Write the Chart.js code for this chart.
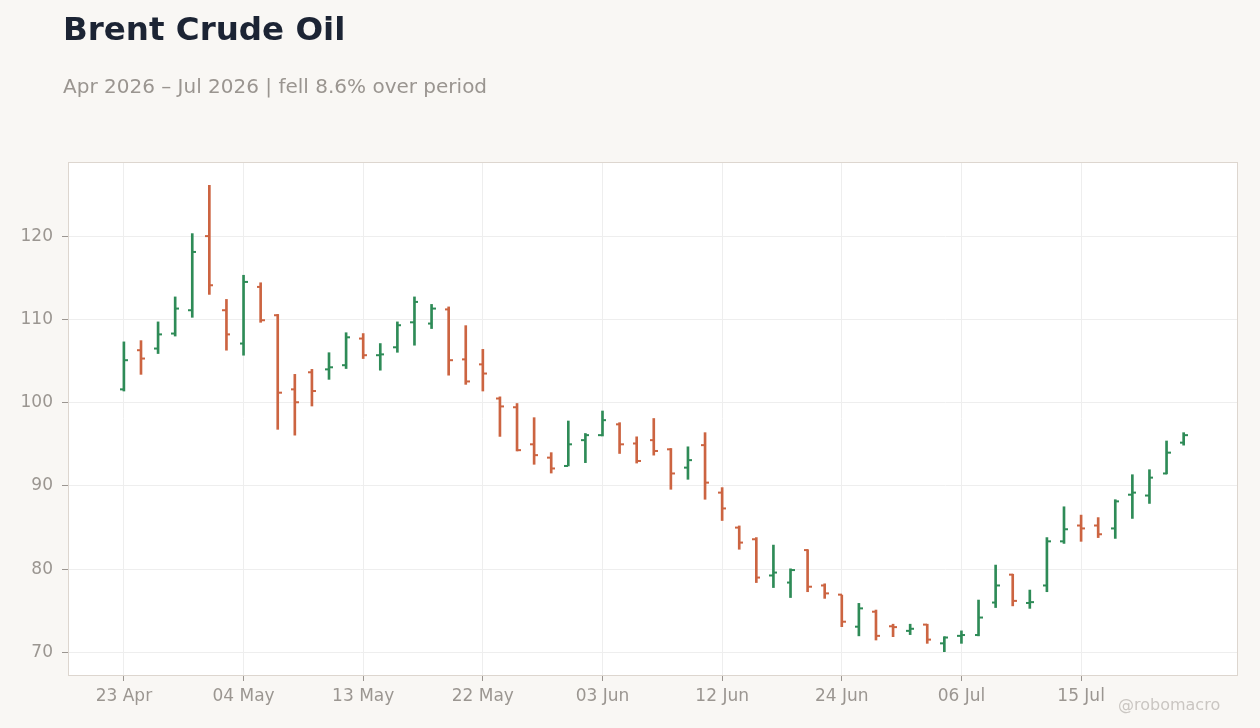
<!DOCTYPE html>
<html>
<head>
<meta charset="utf-8">
<script src="https://cdn.jsdelivr.net/npm/chart.js@4.4.1/dist/chart.umd.min.js"></script>
<style>
  html, body { margin:0; padding:0; background:#f9f7f4; width:1260px; height:728px; overflow:hidden; }
  #wrap { position:relative; width:1260px; height:728px; }
  canvas { position:absolute; left:0; top:0; }
  .txt { position:absolute; font-family:"DejaVu Sans", sans-serif; white-space:nowrap; }
  #title { left:63px; top:13px; font-size:32.5px; line-height:32px; font-weight:bold; color:#1c2434; }
  #subtitle { left:63px; top:76px; font-size:20px; line-height:20px; color:#9a9590; }
  #wm { left:1118px; top:697px; font-size:16px; line-height:16px; color:#cac6c2; }
</style>
</head>
<body>
<div id="wrap">
  <canvas id="c" width="1260" height="728"></canvas>
  <div class="txt" id="title">Brent Crude Oil</div>
  <div class="txt" id="subtitle">Apr 2026 – Jul 2026 | fell 8.6% over period</div>
  <div class="txt" id="wm">@robomacro</div>
</div>
<script>
// Trading days (NYSE calendar) 23 Apr 2026 – 23 Jul 2026
const dates = [
  "2026-04-23","2026-04-24","2026-04-27","2026-04-28","2026-04-29","2026-04-30",
  "2026-05-01","2026-05-04","2026-05-05","2026-05-06","2026-05-07","2026-05-08",
  "2026-05-11","2026-05-12","2026-05-13","2026-05-14","2026-05-15","2026-05-18",
  "2026-05-19","2026-05-20","2026-05-21","2026-05-22","2026-05-26","2026-05-27",
  "2026-05-28","2026-05-29","2026-06-01","2026-06-02","2026-06-03","2026-06-04",
  "2026-06-05","2026-06-08","2026-06-09","2026-06-10","2026-06-11","2026-06-12",
  "2026-06-15","2026-06-16","2026-06-17","2026-06-18","2026-06-22","2026-06-23",
  "2026-06-24","2026-06-25","2026-06-26","2026-06-29","2026-06-30","2026-07-01",
  "2026-07-02","2026-07-06","2026-07-07","2026-07-08","2026-07-09","2026-07-10",
  "2026-07-13","2026-07-14","2026-07-15","2026-07-16","2026-07-17","2026-07-20",
  "2026-07-21","2026-07-22","2026-07-23"
];
const opens = [
  101.6,106.3,106.5,108.3,111.1,120.0,111.1,107.1,113.9,110.5,
  101.6,103.65,104.0,104.5,107.7,105.7,106.65,109.65,109.5,111.2,
  105.2,104.6,100.5,99.45,95.0,93.4,92.4,95.5,96.1,97.4,
  95.1,95.5,94.4,92.2,94.9,89.2,85.0,83.6,79.25,78.4,
  82.3,78.05,76.95,73.1,74.9,73.15,72.6,73.35,71.1,72.0,
  72.1,76.0,79.35,75.95,78.05,83.35,85.25,85.25,84.9,88.95,
  88.85,91.5,95.2
];
const highs = [
  107.3,107.45,109.7,112.7,120.3,126.1,112.4,115.3,114.4,110.6,
  103.4,104.0,106.0,108.4,108.3,107.1,109.7,112.7,111.8,111.5,
  109.25,106.4,100.7,99.9,98.2,94.0,97.8,96.3,99.0,97.6,
  95.9,98.1,94.5,94.7,96.4,89.8,85.2,83.8,82.9,80.05,
  82.35,78.25,76.9,75.9,75.1,73.4,73.4,73.4,71.9,72.6,
  76.3,80.5,79.4,77.5,83.8,87.5,86.5,86.2,88.35,91.35,
  91.95,95.4,96.4
];
const lows = [
  101.4,103.4,105.9,108.0,110.25,113.0,106.3,105.7,109.65,96.8,
  96.1,99.6,102.8,104.1,105.3,103.9,106.05,106.9,108.9,103.3,
  102.2,101.4,95.95,94.2,92.6,91.55,92.4,92.8,96.0,93.9,
  92.75,93.7,89.6,90.8,88.4,85.85,82.4,78.4,77.8,76.6,
  77.3,76.5,73.1,72.0,71.5,71.9,72.15,71.1,70.1,71.1,
  72.0,75.4,75.6,75.3,77.3,83.1,83.35,83.8,83.7,86.1,
  87.9,91.45,94.9
];
const closes = [
  105.1,105.3,108.2,111.3,118.1,114.1,108.2,114.5,109.9,101.2,
  100.05,101.4,104.25,107.85,105.7,105.8,109.3,112.1,111.3,105.1,
  102.55,103.5,99.55,94.3,93.7,92.1,95.0,96.1,97.9,95.0,
  93.0,94.2,91.5,93.1,90.4,87.3,83.2,79.0,79.6,79.9,
  77.9,77.1,73.7,75.3,72.0,73.05,72.85,71.55,71.8,72.1,
  74.2,78.05,76.2,76.05,83.35,84.8,84.9,84.2,88.15,89.2,
  91.0,94.0,96.1
];
const xTickIndex = [0,7,14,21,28,35,42,49,56];
const xTickLabels = ["23 Apr","04 May","13 May","22 May","03 Jun","12 Jun","24 Jun","06 Jul","15 Jul"];
const yTicks = [70,80,90,100,110,120];

const UP = '#2e8b57', DOWN = '#cc6441';
const colors = closes.map((c,i)=> c >= opens[i] ? UP : DOWN);
const rangeData = dates.map((d,i)=>({x:i, y:[lows[i], highs[i]]}));

const frameAndTicks = {
  id:'frameAndTicks',
  beforeDraw(chart){
    const {ctx, chartArea:a} = chart;
    ctx.save();
    ctx.fillStyle = '#ffffff';
    ctx.fillRect(a.left, a.top, a.right-a.left, a.bottom-a.top);
    ctx.restore();
  },
  afterDatasetsDraw(chart){
    const {ctx, chartArea:a, scales} = chart;
    const meta = chart.getDatasetMeta(0);
    ctx.save();
    meta.data.forEach((el,i)=>{
      const cx = Math.round(el.x);
      ctx.fillStyle = colors[i];
      const yo = scales.y.getPixelForValue(opens[i]);
      const yc = scales.y.getPixelForValue(closes[i]);
      ctx.fillRect(cx-4, yo-1, 4, 2);
      ctx.fillRect(cx, yc-1, 4, 2);
    });
    ctx.strokeStyle = '#ddd6cf';
    ctx.lineWidth = 1;
    ctx.strokeRect(Math.round(a.left)+0.5, Math.round(a.top)+0.5, Math.round(a.right-a.left)-1, Math.round(a.bottom-a.top));
    ctx.restore();
  }
};

const tickFont = {family:'"DejaVu Sans", sans-serif', size:17};
new Chart(document.getElementById('c'), {
  type:'bar',
  data:{
    datasets:[{
      data: rangeData,
      backgroundColor: colors,
      borderWidth:0,
      barThickness:2,
      grouped:false
    }]
  },
  options:{
    responsive:false,
    animation:false,
    devicePixelRatio:1,
    layout:{padding:{top:162, right:22, left:0, bottom:0}},
    plugins:{legend:{display:false}, tooltip:{enabled:false}, title:{display:false}},
    scales:{
      x:{
        type:'linear', min:-3.27, max:65.18, offset:false,
        afterBuildTicks: s => { s.ticks = xTickIndex.map(v=>({value:v})); },
        afterFit: s => { s.height = 53; },
        ticks:{ color:'#9b9691', font:tickFont, padding:5, maxRotation:0, autoSkip:false,
          callback: v => { const k = xTickIndex.indexOf(v); return k>=0 ? xTickLabels[k] : ''; } },
        grid:{ offset:false, color:'#eeeeee', tickColor:'#9b9691', tickLength:6, lineWidth:1 },
        border:{display:false}
      },
      y:{
        type:'linear', min:67.3, max:128.9,
        afterBuildTicks: s => { s.ticks = yTicks.map(v=>({value:v})); },
        afterFit: s => { s.width = 68; },
        ticks:{ color:'#9b9691', font:tickFont, padding:9 },
        grid:{ offset:false, color:'#eeeeee', tickColor:'#9b9691', tickLength:6, lineWidth:1 },
        border:{display:false}
      }
    }
  },
  plugins:[frameAndTicks]
});
</script>
</body>
</html>
